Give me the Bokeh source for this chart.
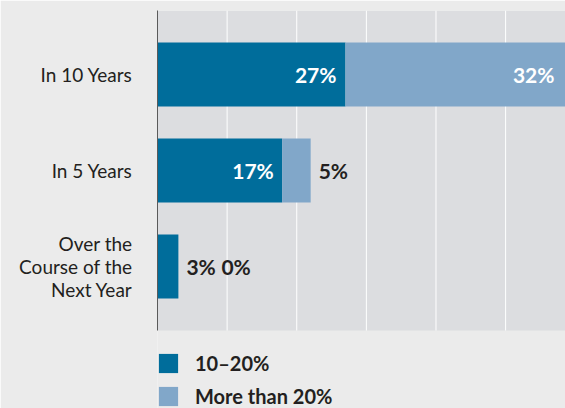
from bokeh.plotting import figure
from bokeh.models import ColumnDataSource, FixedTicker, Legend, LegendItem, BoxAnnotation
from bokeh.core.properties import value
from bokeh.embed import file_html
from bokeh.resources import INLINE

categories = ["Over the\nCourse of the\nNext Year", "In 5 Years", "In 10 Years"]
share_10_20 = [3, 17.9, 27]
share_over_20 = [0, 4.1, 32]
labels_10_20 = ["3%", "17%", "27%"]
labels_over_20 = ["0%", "5%", "32%"]
x_ticks = [10, 20, 30, 40, 50, 60]

DARK = "#006d9b"
LIGHT = "#81a7c9"
PAGE_BG = "#ebebeb"
PLOT_BG = "#dcdde0"
TEXT = "#231f20"
FONT = "Lato"
X_MAX = 58.6
Y_TOP = 2.667
Y_PLOT_BOTTOM = -0.667
Y_FRAME_BOTTOM = Y_TOP - 398 / 96.0

pos = list(range(len(categories)))
ends_light = [a + b for a, b in zip(share_10_20, share_over_20)]

p = figure(width=565, height=408, output_backend="svg", toolbar_location=None,
           x_range=(0, X_MAX), y_range=(Y_FRAME_BOTTOM, Y_TOP),
           min_border_left=157, min_border_right=0, min_border_top=10,
           min_border_bottom=0)
p.background_fill_color = PAGE_BG
p.border_fill_color = PAGE_BG
p.outline_line_color = None
p.xaxis.visible = False
p.xgrid.grid_line_color = None
p.ygrid.grid_line_color = None

# grey plot area
p.add_layout(BoxAnnotation(bottom=Y_PLOT_BOTTOM, fill_color=PLOT_BG, fill_alpha=1,
                           line_color=None, level="underlay"))

# vertical grid lines (only in the plot area)
p.segment(x0=x_ticks, x1=x_ticks, y0=[Y_PLOT_BOTTOM] * len(x_ticks),
          y1=[Y_TOP] * len(x_ticks), line_color="white", line_width=1)

src = ColumnDataSource(dict(y=pos, d=share_10_20, e=ends_light))
r1 = p.hbar(y="y", left=0, right="d", height=0.667, source=src,
            fill_color=DARK, line_color=None)
r2 = p.hbar(y="y", left="d", right="e", height=0.667, source=src,
            fill_color=LIGHT, line_color=None)

# bar labels
inside_x, inside_y, inside_t, inside_off = [], [], [], []
outside_x, outside_y, outside_t, outside_off = [], [], [], []
for i in pos:
    if share_10_20[i] > 10:
        inside_x.append(float(round(share_10_20[i]))); inside_y.append(i)
        inside_t.append(labels_10_20[i]); inside_off.append(-9)
    else:
        outside_x.append(ends_light[i]); outside_y.append(i)
        outside_t.append(labels_10_20[i]); outside_off.append(8)
    if share_over_20[i] > 10:
        inside_x.append(min(ends_light[i], X_MAX)); inside_y.append(i)
        inside_t.append(labels_over_20[i]); inside_off.append(-11)
    else:
        off = 8 if share_10_20[i] > 10 else 43
        outside_x.append(ends_light[i]); outside_y.append(i)
        outside_t.append(labels_over_20[i]); outside_off.append(off)

in_src = ColumnDataSource(dict(x=inside_x, y=inside_y, t=inside_t, o=inside_off))
p.text(x="x", y="y", text="t", source=in_src, text_color="white",
       text_font=value(FONT), text_font_style="bold", text_font_size="21px",
       text_align="right", text_baseline="middle", x_offset="o")
out_src = ColumnDataSource(dict(x=outside_x, y=outside_y, t=outside_t, o=outside_off))
p.text(x="x", y="y", text="t", source=out_src, text_color=TEXT,
       text_font=value(FONT), text_font_style="bold", text_font_size="21px",
       text_align="left", text_baseline="middle", x_offset="o")

# y axis
p.yaxis.ticker = FixedTicker(ticks=pos)
p.yaxis.bounds = (Y_PLOT_BOTTOM, Y_TOP)
p.yaxis.major_label_overrides = {i: c for i, c in enumerate(categories)}
p.yaxis.axis_line_color = "#5a5a5a"
p.yaxis.axis_line_width = 1
p.yaxis.major_tick_line_color = None
p.yaxis.minor_tick_line_color = None
p.yaxis.major_tick_out = 0
p.yaxis.major_tick_in = 0
p.yaxis.major_label_standoff = 25
p.yaxis.major_label_text_font = FONT
p.yaxis.major_label_text_font_size = "19px"
p.yaxis.major_label_text_color = TEXT
p.yaxis.major_label_text_line_height = 1.0

legend = Legend(items=[LegendItem(label="10–20%", renderers=[r1]),
                       LegendItem(label="More than 20%", renderers=[r2])],
                location=(-1, 0), orientation="vertical",
                glyph_width=24, glyph_height=24, label_standoff=15,
                spacing=9, padding=0, margin=0,
                label_text_font=FONT, label_text_font_style="bold",
                label_text_font_size="20px", label_text_color=TEXT,
                background_fill_alpha=0, border_line_color=None)
p.add_layout(legend, "center")

open("out.html", "w").write(file_html(p, INLINE))
